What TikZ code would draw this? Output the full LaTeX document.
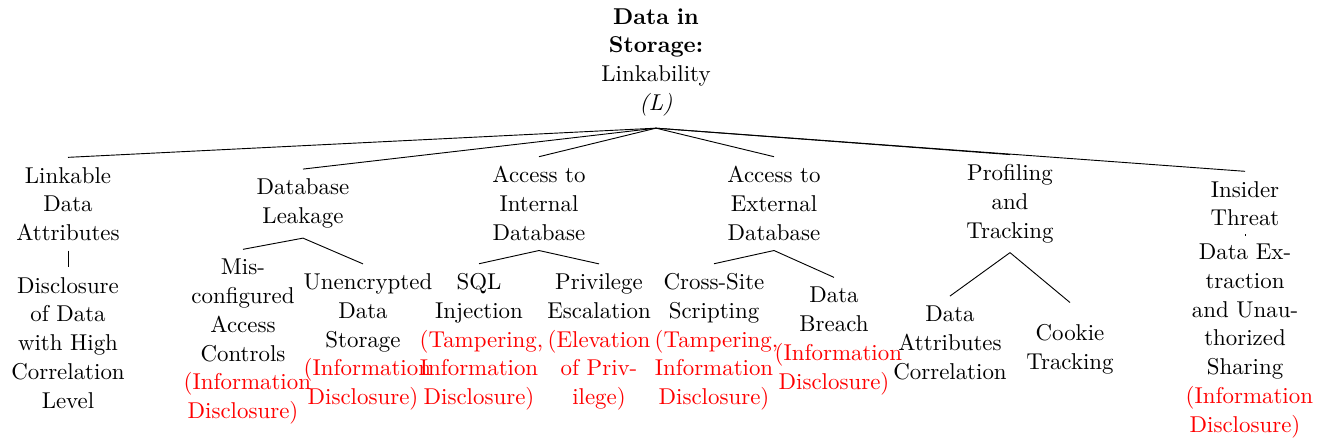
\documentclass[tikz,border=0pt]{standalone}
\hyphenpenalty=10000
\exhyphenpenalty=10000
\newcommand\redtxt[1]{\textcolor{red}{#1}}
\begin{document}
\begin{tikzpicture}[x=0.4367pt,y=-0.4367pt,
  tn/.style={text width=51.8pt, align=center, inner sep=4.1pt,
    font=\fontsize{10}{12.55}\selectfont},
  conn/.style={draw=black, line width=0.4pt}]
\useasboundingbox (0,0) rectangle (1322,441);
% root
\node[tn, inner ysep=5.1pt] (root) at (656,62.2) {\textbf{Data in}\\\textbf{Storage:}\\Linkability\\\textit{(L)}};
% level 1
\node[tn] (l1a) at (68,204) {Linkable\\Data\\Attributes};
\node[tn] (l1b) at (303,203.6) {Database\\Leakage};
\node[tn] (l1c) at (539,203.6) {Access to\\Internal\\Database};
\node[tn] (l1d) at (774,203.6) {Access to\\External\\Database};
\node[tn] (l1e) at (1010,203.6) {Profiling\\and\\Tracking};
\node[tn] (l1f) at (1245,203.6) {Insider\\Threat};
% level 2
\node[tn] (l2a) at (68,342.7) {Disclosure\\of Data\\with High\\Correlation\\Level};
\node[tn] (l2b) at (243,341.7) {Mis-\\configured\\Access\\Controls\\\redtxt{(Information}\\\redtxt{Disclosure)}};
\node[tn] (l2c) at (363,342) {Unencrypted\\Data\\Storage\\\redtxt{(Information}\\\redtxt{Disclosure)}};
\node[tn] (l2d) at (479,342) {SQL\\Injection\\\redtxt{(Tampering,}\\\redtxt{Information}\\\redtxt{Disclosure)}};
\node[tn] (l2e) at (599,342) {Privilege\\Escalation\\\redtxt{(Elevation}\\\redtxt{of Priv-}\\\redtxt{ilege)}};
\node[tn] (l2f) at (714,342) {Cross-Site\\Scripting\\\redtxt{(Tampering,}\\\redtxt{Information}\\\redtxt{Disclosure)}};
\node[tn] (l2g) at (834,341) {Data\\Breach\\\redtxt{(Information}\\\redtxt{Disclosure)}};
\node[tn] (l2h) at (950,342.7) {Data\\Attributes\\Correlation};
\node[tn, minimum height=40.2pt] (l2i) at (1070,349) {Cookie\\Tracking};
\node[tn] (l2j) at (1245,341) {Data Ex-\\traction\\and Unau-\\thorized\\Sharing\\\redtxt{(Information}\\\redtxt{Disclosure)}};
% connectors
\foreach \c in {l1a,l1b,l1c,l1d,l1e,l1f}
  \draw[conn] (root.south) -- (\c.north);
\draw[conn] (l1a.south) -- (l2a.north);
\draw[conn] (l1b.south) -- (l2b.north);
\draw[conn] (l1b.south) -- (l2c.north);
\draw[conn] (l1c.south) -- (l2d.north);
\draw[conn] (l1c.south) -- (l2e.north);
\draw[conn] (l1d.south) -- (l2f.north);
\draw[conn] (l1d.south) -- (l2g.north);
\draw[conn] (l1e.south) -- (l2h.north);
\draw[conn] (l1e.south) -- (l2i.north);
\draw[conn] (l1f.south) -- (l2j.north);
\end{tikzpicture}
\end{document}
